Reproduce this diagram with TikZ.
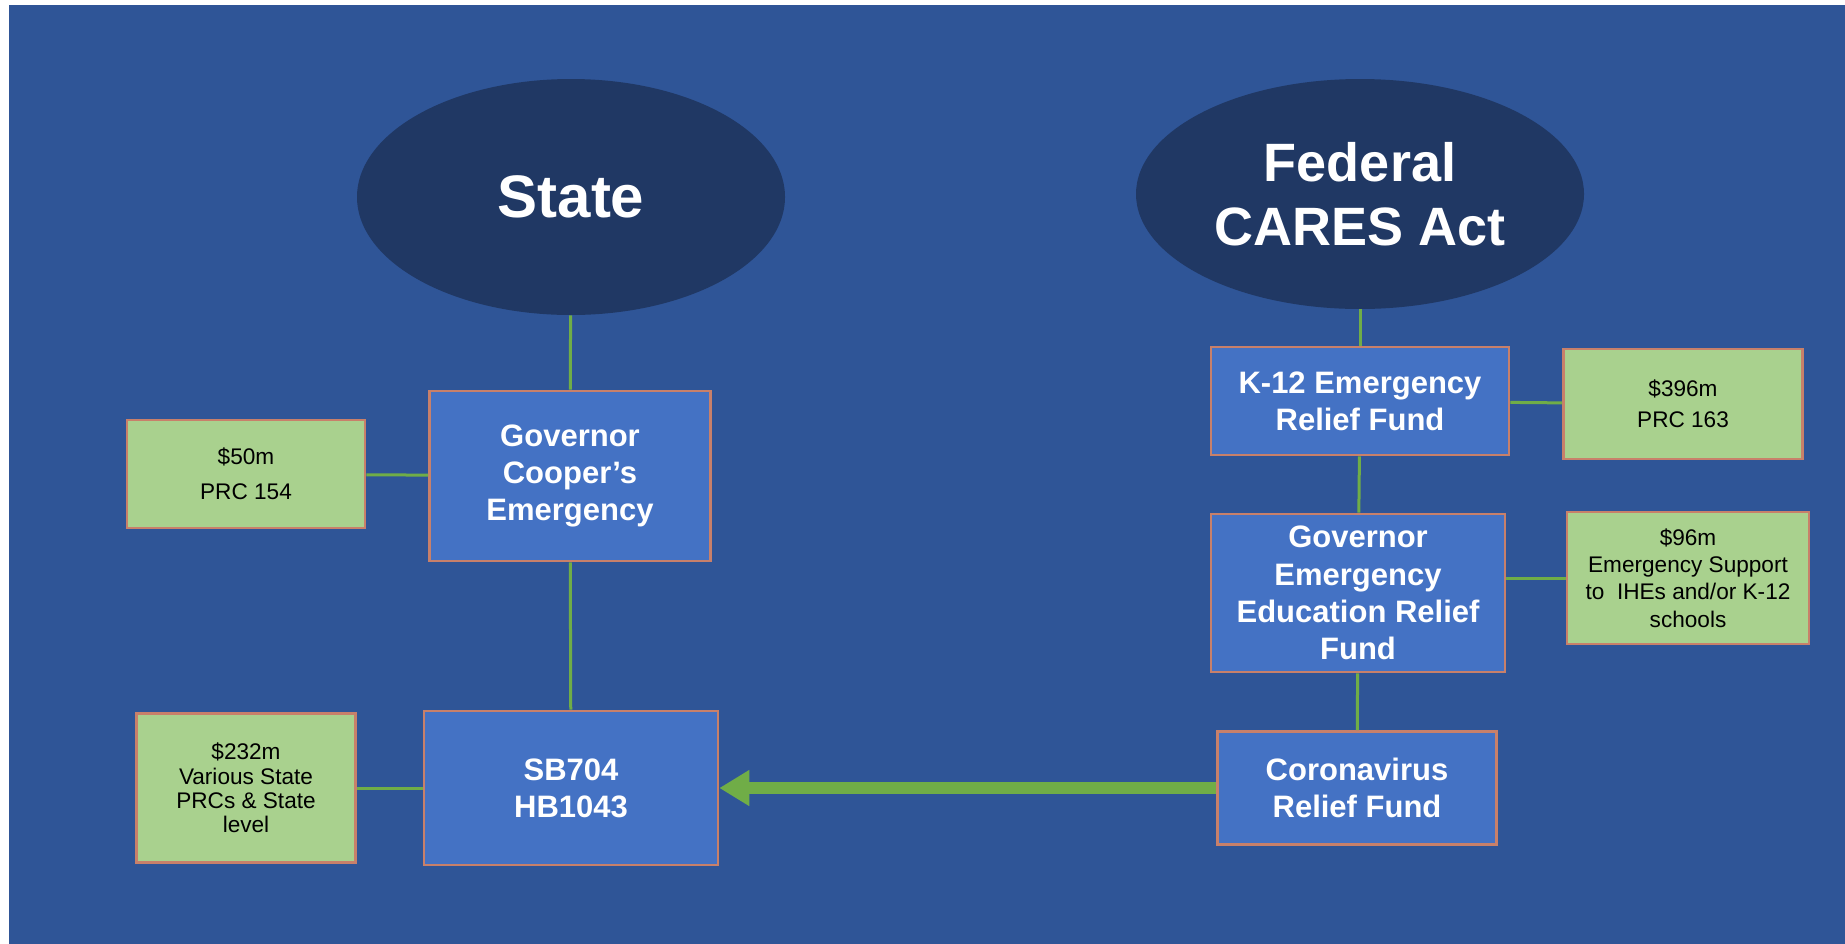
\documentclass[tikz,border=0pt]{standalone}
\usepackage{fontspec}
\setmainfont{Liberation Sans}
\usetikzlibrary{positioning, arrows.meta, shapes.geometric}
\definecolor{slidebg}{RGB}{47,85,151}
\definecolor{ovalfill}{RGB}{32,56,100}
\definecolor{fundfill}{RGB}{68,114,196}
\definecolor{amountfill}{RGB}{169,209,142}
\definecolor{edgeorange}{RGB}{200,128,106}
\definecolor{linkgreen}{RGB}{112,173,71}

\begin{document}
\begin{tikzpicture}[
	x=0.5pt, y=-0.5pt,
	tieroval/.style={ellipse, fill=ovalfill, text=white, inner sep=0pt, align=center, font=\bfseries\fontsize{30}{32}\selectfont},
	fundbox/.style={rectangle, draw=edgeorange, line width=1.3pt, fill=fundfill, text=white, inner sep=0pt, align=center, font=\bfseries\fontsize{15.5}{18.6}\selectfont},
	amountbox/.style={rectangle, draw=edgeorange, line width=1.3pt, fill=amountfill, text=black, inner sep=0pt, align=center, font=\fontsize{11.3}{13.7}\selectfont},
	linkline/.style={draw=linkgreen, line width=1.5pt},
	transferarrow/.style={draw=linkgreen, fill=linkgreen, line width=6pt, -{Triangle[length=15pt, width=17pt]}}
]

\useasboundingbox (0,0) rectangle (1845,943);
\fill[white] (-5,-5) rectangle (1855,953);
\fill[slidebg] (9,5) rectangle (1855,953);

\node[tieroval, minimum width=214pt, minimum height=118pt] (state) at (571,197) {State};
\node[tieroval, minimum width=224pt, minimum height=115pt, font=\bfseries\fontsize{27}{32}\selectfont] (federal) at (1360,194) {Federal\\CARES Act};

\node[fundbox, minimum width=140.5pt, minimum height=85pt] (governor) at (570,476) {Governor\\Cooper's\\Emergency};
\node[amountbox, minimum width=119pt, minimum height=54pt, font=\fontsize{11.3}{17.6}\selectfont] (prcfifty) at (246,474) {\$50m\\PRC 154};
\node[fundbox, minimum width=147pt, minimum height=77pt] (bills) at (571,788) {SB704\\HB1043};
\node[amountbox, minimum width=109.5pt, minimum height=74.5pt, font=\fontsize{11.3}{12.2}\selectfont] (statelevel) at (246,788) {\$232m\\Various State\\PRCs \& State\\level};

\node[fundbox, minimum width=149pt, minimum height=54pt] (kfund) at (1360,401) {K-12 Emergency\\Relief Fund};
\node[amountbox, minimum width=119.5pt, minimum height=55pt, font=\fontsize{11.3}{15.3}\selectfont] (prcthree) at (1683,404) {\$396m\\PRC 163};
\node[fundbox, minimum width=147pt, minimum height=79pt] (geer) at (1358,593) {Governor\\Emergency\\Education Relief\\Fund};
\node[amountbox, minimum width=121pt, minimum height=66pt] (ihesupport) at (1688,578) {\$96m\\Emergency Support\\to\ \ IHEs and/or K-12\\schools};
\node[fundbox, minimum width=139.5pt, minimum height=56.5pt] (corona) at (1357,788) {Coronavirus\\Relief Fund};

\draw[linkline] (state) -- (governor);
\draw[linkline] (governor) -- (bills);
\draw[linkline] (prcfifty) -- (governor);
\draw[linkline] (statelevel) -- (bills);
\draw[linkline] (federal) -- (kfund);
\draw[linkline] (kfund) -- (geer);
\draw[linkline] (geer) -- (corona);
\draw[linkline] (kfund) -- (prcthree);
\draw[linkline] (geer.east |- ihesupport.west) -- (ihesupport.west);
\draw[transferarrow] (corona) -- (bills);
\end{tikzpicture}
\end{document}
